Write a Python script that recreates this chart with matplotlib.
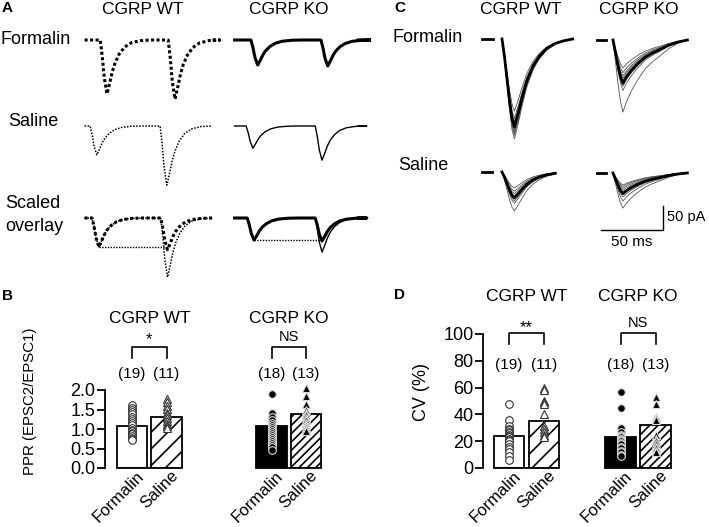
import numpy as np
import matplotlib
matplotlib.use("Agg")
import matplotlib.pyplot as plt
import matplotlib.transforms as mtransforms

plt.rcParams["font.family"] = ["Liberation Sans", "DejaVu Sans"]
plt.rcParams["hatch.linewidth"] = 1.2

W, H = 709, 527

# ---- panel A: paired-pulse EPSCs (ms, pA) ----
# EPSC shape (time after onset, fraction of peak)
a_tmpl_t = np.array([0, 1.5, 3, 5, 7, 9, 11, 14, 18, 23, 30, 38])
a_tmpl_f = np.array([0, 0.3, 0.7, 1.0, 0.8, 0.58, 0.42, 0.26, 0.13, 0.05, 0.01, 0])

a_wt_form_onsets = [7.5, 57.5]
a_wt_form_amps = [112, 123]
a_wt_sal_onsets = [0, 51.5]
a_wt_sal_amps = [60, 123]
a_wt_ovl_onsets = [1.5, 52]
a_ko_form_onsets = [8, 59.5]
a_ko_form_amps = [52, 54]
a_ko_sal_onsets = [4.5, 55.3]
a_ko_sal_amps = [46, 71]
a_ko_ovl_onsets = [5.3, 55.3]
a_span_wt = (-4, 90)
a_span_ko = (-4, 87)

# ---- panel C: superimposed EPSCs ----
c_wt_t = np.array([0, 2, 4, 6, 8, 10, 13, 16, 20, 25, 30, 36, 43, 50, 57])
c_wt_f = np.array([0, 0.2, 0.45, 0.7, 0.9, 1.0, 0.85, 0.68, 0.48, 0.31, 0.2, 0.11, 0.05, 0.02, 0])
c_ko_t = np.array([0, 2, 4, 6, 8, 11, 15, 20, 26, 32, 38, 45, 52, 60])
c_ko_f = np.array([0, 0.3, 0.6, 0.85, 1.0, 0.85, 0.7, 0.55, 0.4, 0.3, 0.22, 0.12, 0.05, 0])
c_wt_form_amps = [150, 165, 172, 178, 182, 186, 190, 195, 200, 208]
c_ko_form_amps = [58, 68, 75, 80, 85, 90, 96, 105, 150]
c_wt_sal_amps = [33, 40, 45, 50, 55, 60, 65, 81]
c_ko_sal_amps = [25, 28, 32, 36, 40, 44, 50, 58, 73]

# ---- panels B and D ----
groups = ["Formalin", "Saline"]
ppr_wt_mean = [1.08, 1.31]
ppr_ko_mean = [1.08, 1.38]
ppr_wt_formalin = [1.62, 1.55, 1.49, 1.44, 1.38, 1.32, 1.26, 1.2, 1.15, 1.1, 1.03, 0.98, 0.95, 0.9, 0.86, 0.82, 0.78, 0.75, 0.72]
ppr_wt_saline = [1.78, 1.7, 1.6, 1.52, 1.42, 1.35, 1.28, 1.2, 1.13, 1.08, 1.03]
ppr_ko_formalin = [1.9, 1.41, 1.3, 1.22, 1.15, 1.1, 1.05, 1.0, 0.95, 0.9, 0.85, 0.8, 0.75, 0.7, 0.65, 0.59, 0.53, 0.46]
ppr_ko_saline = [2.05, 1.85, 1.65, 1.5, 1.42, 1.35, 1.28, 1.22, 1.15, 1.1, 1.05, 1.0, 0.95]
cv_wt_mean = [24, 35]
cv_ko_mean = [23, 32]
cv_wt_formalin = [48, 36, 31, 29, 28, 27, 26, 25, 24, 23, 22, 21, 20, 18, 16, 14, 12, 9, 6]
cv_wt_saline = [60, 58, 50, 49, 48, 40, 31, 29, 27, 25, 23]
cv_ko_formalin = [57, 45, 30, 27, 25, 24, 23, 22, 21, 20, 19, 18, 16, 15, 13, 12, 10, 9]
cv_ko_saline = [53, 48, 38, 37, 36, 25, 22, 20, 18, 16, 15, 13, 12]


def px_axes(fig, left, top, width, height):
    ax = fig.add_axes([left / W, 1 - (top + height) / H, width / W, height / H])
    return ax


def ftext(fig, x, y, s, **kw):
    fig.text(x / W, 1 - y / H, s, **kw)


def paired(onsets, amps, span):
    ts = [span[0]]
    ys = [0]
    for on, a in zip(onsets, amps):
        ts += list(on + a_tmpl_t)
        ys += list(-a * a_tmpl_f)
    ts.append(span[1])
    ys.append(0)
    return ts, ys


def epsc(tt, ff, amp, t_end):
    keep = tt <= t_end
    return tt[keep], -amp * ff[keep]


fig = plt.figure(figsize=(7.09, 5.27), dpi=100)

# panel letters and headings
for x, y, s in [(2, 8, "A"), (2, 296, "B"), (394, 8, "C"), (394, 295, "D")]:
    ftext(fig, x, y, s, fontsize=11, fontweight="bold", va="center")
for x, s in [(143, "CGRP WT"), (289, "CGRP KO"), (521, "CGRP WT"), (639, "CGRP KO")]:
    ftext(fig, x, 9, s, fontsize=12.5, ha="center", va="center")
ftext(fig, 0, 39, "Formalin", fontsize=13, va="center")
ftext(fig, 8, 122, "Saline", fontsize=13, va="center")
ftext(fig, 5, 203, "Scaled", fontsize=13, va="center")
ftext(fig, 5, 227, "overlay", fontsize=13, va="center")
ftext(fig, 393, 37, "Formalin", fontsize=13, va="center")
ftext(fig, 398, 165, "Saline", fontsize=13, va="center")

# ---- A ----
px_ms_a = 1.36
px_pa = 1 / 2.08
a_xlim = (-12, 96)
a_ylim = (-135, 15)
dot_thick = dict(color="black", lw=2.2, ls=(0, (1, 0.8)))
dot_thin = dict(color="black", lw=1.1, ls=(0, (1, 1)))
solid_thick = dict(color="black", lw=2.2)
solid_thin = dict(color="black", lw=1.0)


def a_axes(zero_px, base_px):
    left = zero_px + a_xlim[0] * px_ms_a
    top = base_px - a_ylim[1] * px_pa
    ax = px_axes(fig, left, top, (a_xlim[1] - a_xlim[0]) * px_ms_a, (a_ylim[1] - a_ylim[0]) * px_pa)
    ax.set_xlim(a_xlim)
    ax.set_ylim(a_ylim)
    ax.axis("off")
    return ax


rows = [40, 126, 218]
for col, zero, spec in [
    ("wt", 90, (a_wt_form_onsets, a_wt_form_amps, a_wt_sal_onsets, a_wt_sal_amps, a_wt_ovl_onsets, a_span_wt, dot_thick, dot_thin)),
    ("ko", 240, (a_ko_form_onsets, a_ko_form_amps, a_ko_sal_onsets, a_ko_sal_amps, a_ko_ovl_onsets, a_span_ko, solid_thick, solid_thin)),
]:
    f_on, f_amp, s_on, s_amp, o_on, span, thick, thin = spec
    ax = a_axes(zero, rows[0])
    ax.plot(*paired(f_on, f_amp, span), **thick)
    ax = a_axes(zero, rows[1])
    ax.plot(*paired(s_on, s_amp, span), **thin)
    ax = a_axes(zero, rows[2])
    scale = s_amp[0] / f_amp[0]
    ax.plot(*paired(o_on, [a * scale for a in f_amp], span), **thick)
    ax.plot(*paired(o_on, s_amp, span), **thin)
    tp = a_tmpl_t[np.argmax(a_tmpl_f)]
    ax.plot([o_on[0] + tp, o_on[1] + tp], [-s_amp[0], -s_amp[0]], color="black", lw=1.0, ls=(0, (1, 1)))

# ---- C ----
px_ms_c = 1.24
c_xlim = (-18, 62)
c_cells = [
    (502, 39, (-215, 10), c_wt_t, c_wt_f, c_wt_form_amps, 57, (-16, -7)),
    (613, 40, (-215, 10), c_ko_t, c_ko_f, c_ko_form_amps, 60, (-13, -6)),
    (502, 172, (-120, 10), c_wt_t, c_wt_f, c_wt_sal_amps, 44, (-16, -8)),
    (613, 173, (-120, 10), c_ko_t, c_ko_f, c_ko_sal_amps, 60, (-13, -6)),
]
for zero, base, ylim, tt, ff, amps, t_end, stub in c_cells:
    left = zero + c_xlim[0] * px_ms_c
    top = base - ylim[1] * px_pa
    ax = px_axes(fig, left, top, (c_xlim[1] - c_xlim[0]) * px_ms_c, (ylim[1] - ylim[0]) * px_pa)
    ax.set_xlim(c_xlim)
    ax.set_ylim(ylim)
    ax.axis("off")
    for a in amps:
        ax.plot(*epsc(tt, ff, a, t_end), color="#555555", lw=0.6)
    ax.plot(*epsc(tt, ff, np.mean(amps), t_end), color="black", lw=2.0)
    ax.plot(stub, [0, 0], color="black", lw=2.0)

# scale bar on last C cell
ax.plot([-9.7, 40.3, 40.3], [-118.6, -118.6, -68.6], color="black", lw=1.0, clip_on=False)
ftext(fig, 667, 217, "50 pA", fontsize=10.5, va="center")
ftext(fig, 632, 242, "50 ms", fontsize=11, ha="center", va="center")


# ---- B and D ----
def bar_axes(center0, spacing, xlim, top, bottom, ymax):
    ax = px_axes(fig, center0 + xlim[0] * spacing, top, (xlim[1] - xlim[0]) * spacing, bottom - top)
    ax.set_xlim(xlim)
    ax.set_ylim(0, ymax)
    for s in ["top", "right"]:
        ax.spines[s].set_visible(False)
    ax.spines["bottom"].set_bounds(-0.44, 1.44)
    ax.spines["bottom"].set_linewidth(1.3)
    ax.spines["left"].set_bounds(0, ymax)
    ax.spines["left"].set_linewidth(1.3)
    ax.set_xticks([])
    ax.tick_params(axis="y", direction="out", length=6, width=1.3, labelsize=13, pad=1)
    ax.patch.set_visible(False)
    return ax


def fill_bars(ax, means, vals, filled, hatch, ann):
    ax.bar(0, means[0], width=0.88, color="black" if filled else "white", edgecolor="black", lw=1.3, zorder=1)
    ax.bar(1, means[1], width=0.88, color="white", edgecolor="black", lw=1.3, hatch=hatch, zorder=1)
    face = "black" if filled else "white"
    edge = "#dddddd" if filled else "#333333"
    ax.plot(np.zeros(len(vals[0])), vals[0], "o", ms=5.5, mfc=face, mec=edge, mew=0.8, ls="none", zorder=3, clip_on=False)
    ax.plot(np.ones(len(vals[1])), vals[1], "^", ms=6, mfc=face, mec=edge, mew=0.8, ls="none", zorder=3, clip_on=False)
    off = mtransforms.ScaledTranslation(4 / 100, 0, fig.dpi_scale_trans)
    trans = ax.get_xaxis_transform() + off
    for i, g in enumerate(groups):
        ax.text(i, 0, g, transform=trans, rotation=45, ha="right", va="top", rotation_mode="anchor", fontsize=12)
    title_y, star_y, br_top, br_bot, n_y, sig, name = ann
    ax.text(0.5, title_y, name, ha="center", va="center", fontsize=12.5, clip_on=False)
    ax.text(0.5, star_y, sig, ha="center", va="center", fontsize=12 if "*" in sig else 10.5, clip_on=False)
    ax.plot([0, 0, 1, 1], [br_bot, br_top, br_top, br_bot], color="black", lw=1.2, clip_on=False)
    for i in range(2):
        ax.text(i, n_y, "(%d)" % len(vals[i]), ha="center", va="center", fontsize=11, clip_on=False)


axb1 = bar_axes(132, 34.5, (-0.78, 1.5), 390, 468, 2.0)
axb1.set_yticks([0, 0.5, 1.0, 1.5, 2.0])
axb1.set_yticklabels(["0.0", "0.5", "1.0", "1.5", "2.0"])
fill_bars(axb1, ppr_wt_mean, [ppr_wt_formalin, ppr_wt_saline], False, "//", (3.83, 3.28, 3.09, 2.82, 2.42, "*", "CGRP WT"))
axb2 = bar_axes(271.5, 34.5, (-0.6, 1.6), 390, 468, 2.0)
axb2.spines["left"].set_visible(False)
axb2.set_yticks([])
fill_bars(axb2, ppr_ko_mean, [ppr_ko_formalin, ppr_ko_saline], True, "////", (3.83, 3.35, 3.09, 2.82, 2.42, "NS", "CGRP KO"))
ftext(fig, 30, 401, "PPR (EPSC2/EPSC1)", fontsize=10.8, rotation=90, ha="center", va="center")

axd1 = bar_axes(509, 35, (-0.74, 1.6), 334, 468, 100)
axd1.set_yticks([0, 20, 40, 60, 80, 100])
fill_bars(axd1, cv_wt_mean, [cv_wt_formalin, cv_wt_saline], False, "//", (128, 105, 100.7, 92.5, 76.9, "**", "CGRP WT"))
axd2 = bar_axes(620.5, 35, (-0.6, 1.6), 334, 468, 100)
axd2.spines["left"].set_visible(False)
axd2.set_yticks([])
fill_bars(axd2, cv_ko_mean, [cv_ko_formalin, cv_ko_saline], True, "////", (128, 108, 100.7, 92.5, 76.9, "NS", "CGRP KO"))
ftext(fig, 421, 392, "CV (%)", fontsize=13, rotation=90, ha="center", va="center")

fig.savefig("out.png", dpi=100)
